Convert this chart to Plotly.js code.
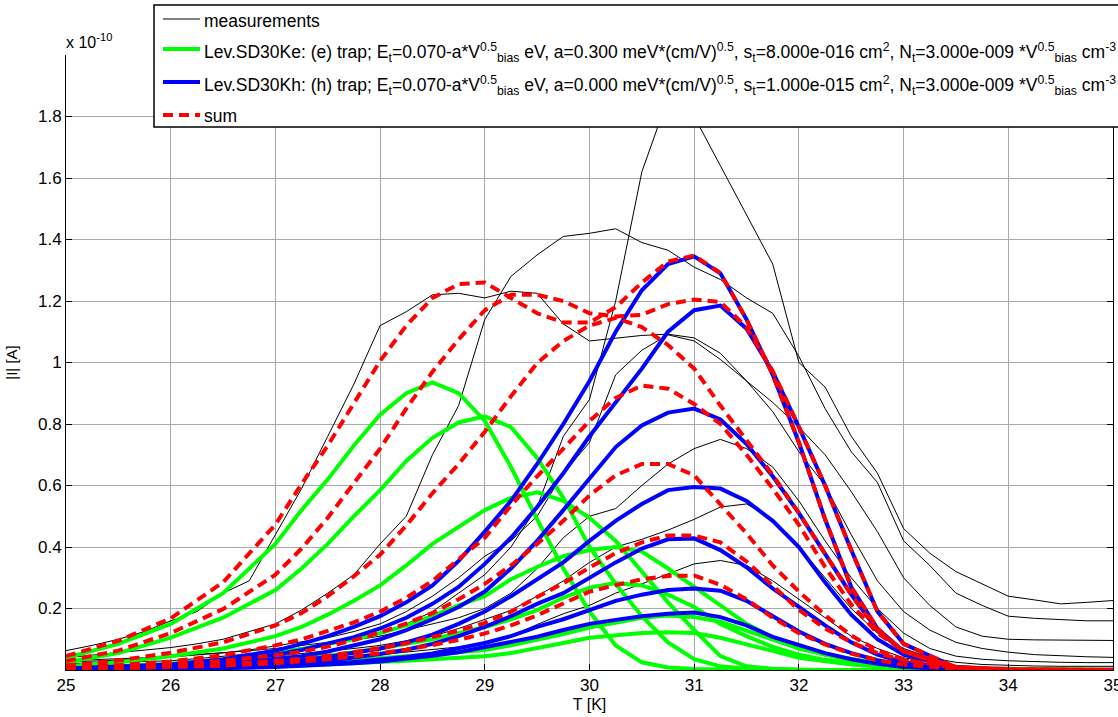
<!DOCTYPE html>
<html><head><meta charset="utf-8">
<script src="https://cdn.plot.ly/plotly-3.0.1.min.js"></script>
<style>html,body{margin:0;padding:0;background:#fff;} #chart{width:1118px;height:717px;}</style>
</head><body><div id="chart"></div>
<script>
// Temperature grids [K]
const T = [25,25.5,26,26.5,27,27.25,27.5,27.75,28,28.25,28.5,28.75,29,29.25,29.5,29.75,30,30.25,30.5,30.75,31,31.25,31.5,31.75,32,32.25,32.5,32.75,33,33.5,34,35];
const TM = [25,25.25,25.5,25.75,26,26.25,26.5,26.75,27,27.25,27.5,27.75,28,28.25,28.5,28.75,29,29.25,29.5,29.75,30,30.25,30.5,30.75,31,31.25,31.5,31.75,32,32.25,32.5,32.75,33,33.25,33.5,33.75,34,34.25,34.5,34.75,35];

// Measurements |I| (x 1e-10 A)
const meas1 = [0.063,0.08,0.10,0.125,0.16,0.19,0.25,0.29,0.44,0.59,0.76,0.93,1.12,1.165,1.22,1.225,1.21,1.232,1.225,1.125,1.07,1.08,1.088,1.092,1.08,1.03,0.94,0.87,0.79,0.70,0.58,0.45,0.30,0.21,0.14,0.11,0.10,0.098,0.097,0.095,0.096];
const meas2 = [0.04,0.048,0.055,0.063,0.073,0.085,0.10,0.125,0.15,0.195,0.25,0.31,0.41,0.50,0.70,0.86,1.14,1.28,1.35,1.41,1.42,1.435,1.39,1.365,1.31,1.27,1.21,1.16,1.02,0.85,0.71,0.61,0.42,0.34,0.25,0.21,0.175,0.168,0.165,0.16,0.16];
const meas3 = [0.03,0.033,0.036,0.04,0.045,0.05,0.056,0.063,0.07,0.08,0.09,0.105,0.12,0.15,0.19,0.25,0.31,0.40,0.53,0.76,0.88,1.2,1.62,1.86,1.80,1.64,1.48,1.32,1.0,0.92,0.76,0.64,0.46,0.38,0.32,0.28,0.24,0.228,0.215,0.22,0.226];
const meas4 = [0.025,0.028,0.032,0.036,0.042,0.048,0.056,0.065,0.078,0.09,0.105,0.125,0.15,0.19,0.24,0.30,0.37,0.42,0.50,0.64,0.74,0.96,1.04,1.09,1.07,1.01,0.94,0.84,0.71,0.60,0.44,0.29,0.19,0.13,0.09,0.07,0.058,0.05,0.046,0.043,0.041];
const meas5 = [0.02,0.022,0.025,0.027,0.03,0.037,0.045,0.052,0.06,0.072,0.085,0.097,0.11,0.13,0.15,0.17,0.20,0.25,0.33,0.43,0.50,0.525,0.60,0.67,0.72,0.75,0.72,0.66,0.55,0.42,0.30,0.20,0.12,0.07,0.045,0.035,0.03,0.027,0.025,0.024,0.024];
const meas6 = [0.012,0.013,0.015,0.017,0.02,0.024,0.03,0.037,0.045,0.052,0.06,0.07,0.08,0.095,0.11,0.135,0.165,0.194,0.24,0.29,0.35,0.40,0.425,0.455,0.49,0.53,0.54,0.49,0.40,0.30,0.20,0.12,0.07,0.04,0.025,0.018,0.015,0.013,0.012,0.012,0.012];
const meas7 = [0.006,0.007,0.008,0.01,0.012,0.015,0.018,0.022,0.026,0.031,0.036,0.043,0.05,0.058,0.066,0.075,0.088,0.11,0.148,0.183,0.21,0.25,0.28,0.313,0.345,0.356,0.34,0.29,0.23,0.17,0.11,0.07,0.04,0.025,0.015,0.01,0.008,0.007,0.006,0.006,0.006];

// Lev.SD30Ke (e) trap
const ke1 = [0.04,0.085,0.15,0.25,0.41,0.52,0.62,0.73,0.83,0.90,0.935,0.90,0.81,0.66,0.49,0.33,0.19,0.08,0.025,0.008,0.003,0.001,0,0,0,0,0,0,0,0,0,0];
const ke2 = [0.025,0.055,0.105,0.17,0.26,0.33,0.41,0.50,0.585,0.68,0.755,0.805,0.825,0.79,0.69,0.56,0.40,0.28,0.175,0.09,0.035,0.012,0.004,0.002,0.001,0,0,0,0,0,0,0];
const ke3 = [0.012,0.025,0.045,0.07,0.11,0.14,0.18,0.225,0.275,0.34,0.41,0.465,0.52,0.56,0.578,0.55,0.495,0.42,0.32,0.22,0.13,0.045,0.012,0.004,0.001,0,0,0,0,0,0,0];
const ke4 = [0.006,0.012,0.02,0.034,0.055,0.068,0.085,0.10,0.12,0.145,0.175,0.21,0.24,0.295,0.335,0.37,0.39,0.40,0.385,0.33,0.27,0.21,0.15,0.105,0.072,0.05,0.033,0.02,0.012,0.004,0.001,0];
const ke5 = [0.004,0.007,0.012,0.02,0.03,0.037,0.046,0.057,0.07,0.085,0.10,0.12,0.14,0.165,0.195,0.235,0.268,0.283,0.275,0.245,0.205,0.15,0.11,0.075,0.05,0.033,0.022,0.014,0.009,0.003,0.001,0];
const ke6 = [0.002,0.004,0.007,0.011,0.017,0.021,0.026,0.032,0.038,0.045,0.052,0.058,0.065,0.08,0.097,0.117,0.138,0.155,0.17,0.177,0.172,0.157,0.128,0.097,0.07,0.05,0.035,0.023,0.015,0.006,0.002,0];
const ke7 = [0.001,0.003,0.005,0.008,0.012,0.015,0.018,0.022,0.026,0.03,0.035,0.04,0.045,0.055,0.07,0.088,0.105,0.113,0.12,0.123,0.12,0.105,0.085,0.062,0.04,0.028,0.018,0.012,0.007,0.002,0.001,0];

// Lev.SD30Kh (h) trap
const kh1 = [0.005,0.01,0.018,0.035,0.063,0.085,0.11,0.14,0.175,0.22,0.275,0.355,0.45,0.55,0.67,0.80,0.94,1.10,1.235,1.32,1.345,1.29,1.14,0.96,0.74,0.49,0.27,0.135,0.06,0.005,0,0];
const kh2 = [0.004,0.008,0.015,0.028,0.05,0.065,0.085,0.107,0.135,0.17,0.215,0.27,0.345,0.43,0.53,0.64,0.76,0.87,0.98,1.1,1.17,1.185,1.11,0.97,0.79,0.6,0.39,0.19,0.085,0.008,0,0];
const kh3 = [0.003,0.006,0.011,0.02,0.035,0.045,0.06,0.08,0.1,0.13,0.165,0.205,0.255,0.33,0.42,0.52,0.625,0.725,0.795,0.837,0.85,0.815,0.735,0.63,0.51,0.38,0.245,0.13,0.06,0.007,0,0];
const kh4 = [0.002,0.004,0.008,0.014,0.025,0.032,0.042,0.055,0.07,0.09,0.115,0.15,0.19,0.24,0.295,0.35,0.42,0.485,0.54,0.585,0.595,0.59,0.55,0.485,0.4,0.285,0.18,0.1,0.05,0.006,0,0];
const kh5 = [0.002,0.003,0.006,0.01,0.018,0.023,0.03,0.04,0.052,0.066,0.085,0.11,0.14,0.175,0.215,0.25,0.3,0.35,0.395,0.425,0.428,0.39,0.334,0.265,0.205,0.145,0.09,0.05,0.025,0.004,0,0];
const kh6 = [0.001,0.002,0.004,0.007,0.012,0.015,0.02,0.026,0.033,0.042,0.054,0.07,0.088,0.11,0.14,0.165,0.195,0.225,0.245,0.26,0.265,0.258,0.225,0.175,0.125,0.085,0.055,0.032,0.016,0.003,0,0];
const kh7 = [0.001,0.002,0.003,0.006,0.01,0.013,0.017,0.022,0.028,0.036,0.046,0.058,0.074,0.09,0.108,0.13,0.15,0.163,0.175,0.183,0.187,0.172,0.145,0.108,0.08,0.055,0.035,0.02,0.01,0.002,0,0];

// sum
const sum1 = [0.045,0.095,0.168,0.285,0.473,0.605,0.73,0.87,1.005,1.12,1.21,1.255,1.26,1.21,1.16,1.13,1.13,1.18,1.26,1.328,1.348,1.291,1.14,0.96,0.74,0.49,0.27,0.135,0.06,0.005,0,0];
const sum2 = [0.029,0.063,0.12,0.198,0.31,0.395,0.495,0.607,0.72,0.85,0.97,1.075,1.17,1.22,1.22,1.20,1.16,1.15,1.155,1.19,1.205,1.197,1.114,0.972,0.791,0.6,0.39,0.19,0.085,0.008,0,0];
const sum3 = [0.015,0.031,0.056,0.09,0.145,0.185,0.24,0.305,0.375,0.47,0.575,0.67,0.775,0.89,0.998,1.07,1.12,1.145,1.115,1.057,0.98,0.86,0.747,0.634,0.511,0.38,0.245,0.13,0.06,0.007,0,0];
const sum4 = [0.008,0.016,0.028,0.048,0.08,0.1,0.127,0.155,0.19,0.235,0.29,0.36,0.43,0.535,0.63,0.72,0.81,0.885,0.925,0.915,0.865,0.80,0.70,0.59,0.472,0.335,0.213,0.12,0.062,0.01,0.001,0];
const sum5 = [0.006,0.01,0.018,0.03,0.048,0.06,0.076,0.097,0.122,0.151,0.185,0.23,0.28,0.34,0.41,0.485,0.568,0.633,0.67,0.67,0.633,0.54,0.444,0.34,0.255,0.178,0.112,0.064,0.034,0.007,0.001,0];
const sum6 = [0.003,0.006,0.011,0.018,0.029,0.036,0.046,0.058,0.071,0.087,0.106,0.128,0.153,0.19,0.237,0.282,0.333,0.38,0.415,0.437,0.437,0.415,0.353,0.272,0.195,0.135,0.09,0.055,0.031,0.009,0.002,0];
const sum7 = [0.002,0.005,0.008,0.014,0.022,0.028,0.035,0.044,0.054,0.066,0.081,0.098,0.119,0.145,0.178,0.218,0.255,0.276,0.295,0.306,0.307,0.277,0.23,0.17,0.12,0.083,0.053,0.032,0.017,0.004,0.001,0];

const xTicks = [25,26,27,28,29,30,31,32,33,34,35];
const yTicks = [0.2,0.4,0.6,0.8,1.0,1.2,1.4,1.6,1.8];
const yTickText = ['0.2','0.4','0.6','0.8','1','1.2','1.4','1.6','1.8'];

const legendLabels = [
  'measurements',
  'Lev.SD30Ke: (e) trap; E<sub>t</sub>=0.070-a*V<sup>0.5</sup><sub>bias</sub> eV, a=0.300 meV*(cm/V)<sup>0.5</sup>, s<sub>t</sub>=8.000e-016 cm<sup>2</sup>, N<sub>t</sub>=3.000e-009 *V<sup>0.5</sup><sub>bias</sub> cm<sup>-3</sup>',
  'Lev.SD30Kh: (h) trap; E<sub>t</sub>=0.070-a*V<sup>0.5</sup><sub>bias</sub> eV, a=0.000 meV*(cm/V)<sup>0.5</sup>, s<sub>t</sub>=1.000e-015 cm<sup>2</sup>, N<sub>t</sub>=3.000e-009 *V<sup>0.5</sup><sub>bias</sub> cm<sup>-3</sup>',
  'sum'
];

const measurements = [meas1,meas2,meas3,meas4,meas5,meas6,meas7];
const eTrap = [ke1,ke2,ke3,ke4,ke5,ke6,ke7];
const hTrap = [kh1,kh2,kh3,kh4,kh5,kh6,kh7];
const sums = [sum1,sum2,sum3,sum4,sum5,sum6,sum7];

const traces = [];
measurements.forEach(m => traces.push({x:TM, y:m, type:'scatter', mode:'lines', line:{color:'#000000', width:1}, showlegend:false, hoverinfo:'skip'}));
eTrap.forEach(m => traces.push({x:T, y:m, type:'scatter', mode:'lines', line:{color:'#00ff00', width:4}, showlegend:false, hoverinfo:'skip'}));
hTrap.forEach(m => traces.push({x:T, y:m, type:'scatter', mode:'lines', line:{color:'#0000ff', width:4}, showlegend:false, hoverinfo:'skip'}));
sums.forEach(m => traces.push({x:T, y:m, type:'scatter', mode:'lines', line:{color:'#ff0000', width:4, dash:'10px,6px'}, showlegend:false, hoverinfo:'skip'}));

// pixel helpers for legend placement (plot area: x 66..1113, y 55..670)
const px = v => (v - 66) / 1047;
const py = v => (670 - v) / 615;

const legendY = [19, 49, 82, 115];
const legendStyles = [
  {color:'#000000', width:1},
  {color:'#00ff00', width:4},
  {color:'#0000ff', width:4},
  {color:'#ff0000', width:4, dash:'10px,6px'}
];

const shapes = [
  {type:'rect', xref:'paper', yref:'paper', x0:px(154), x1:px(1130), y0:py(127), y1:py(5), fillcolor:'#ffffff', line:{color:'#000000', width:1.5}, layer:'above'}
];
legendY.forEach((yy,i) => shapes.push({type:'line', xref:'paper', yref:'paper', x0:px(163), x1:px(200), y0:py(yy), y1:py(yy), line:legendStyles[i], layer:'above'}));

const annotations = legendLabels.map((t,i) => ({
  text:t, xref:'paper', yref:'paper', x:px(202), y:py(legendY[i]+ (i===0?2:(i===3?1:3))), xanchor:'left', yanchor:'middle',
  showarrow:false, font:{size:17.5, color:'#000', family:'Liberation Sans, Arial, sans-serif'}
}));
annotations.push({text:'x 10<sup>-10</sup>', xref:'paper', yref:'paper', x:px(64), y:py(41), xanchor:'left', yanchor:'middle', showarrow:false, font:{size:16, color:'#000'}});

const layout = {
  width:1118, height:717,
  margin:{l:66, r:5, t:55, b:47, pad:0},
  paper_bgcolor:'#ffffff', plot_bgcolor:'#ffffff',
  font:{family:'Liberation Sans, Arial, sans-serif', size:17, color:'#000000'},
  showlegend:false,
  xaxis:{range:[25,35], tickmode:'array', tickvals:xTicks, ticktext:xTicks.map(String),
    ticks:'inside', ticklen:6, tickcolor:'#000', showline:true, linecolor:'#000', linewidth:1, mirror:false,
    ticklabeloverflow:'allow',
    showgrid:true, gridcolor:'#a9a9a9', gridwidth:1, zeroline:false,
    title:{text:'T [K]', standoff:4, font:{size:16}}, automargin:false},
  yaxis:{range:[0,2], tickmode:'array', tickvals:yTicks, ticktext:yTickText,
    ticks:'inside', ticklen:6, tickcolor:'#000', showline:true, linecolor:'#000', linewidth:1, mirror:'ticks',
    showgrid:true, gridcolor:'#a9a9a9', gridwidth:1, zeroline:false,
    title:{text:'|I| [A]', standoff:16, font:{size:15}}, automargin:false},
  shapes:shapes,
  annotations:annotations
};

Plotly.newPlot('chart', traces, layout, {displayModeBar:false, staticPlot:true});
</script>
</body></html>
